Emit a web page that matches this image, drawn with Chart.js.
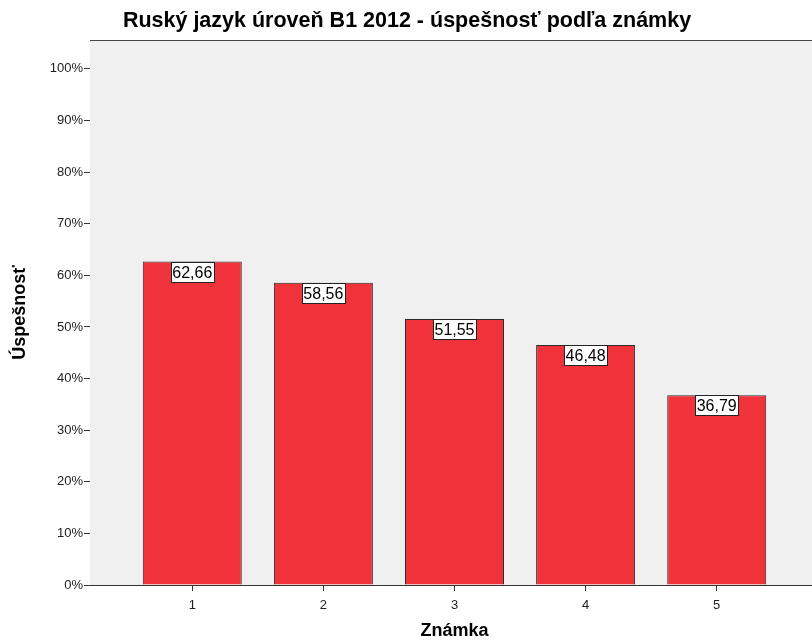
<!DOCTYPE html>
<html>
<head>
<meta charset="utf-8">
<script src="https://cdn.jsdelivr.net/npm/chart.js@4/dist/chart.umd.min.js"></script>
<style>
  html, body { margin: 0; padding: 0; background: #fff; overflow: hidden; }
  #wrap { width: 812px; height: 642px; overflow: hidden; }
</style>
</head>
<body>
<div id="wrap"><canvas id="chart_uspesnost" width="830" height="642"></canvas></div>
<script>
const grades = ['1', '2', '3', '4', '5'];
const successRates = [62.66, 58.56, 51.55, 46.48, 36.79];
const yTicks = [0, 10, 20, 30, 40, 50, 60, 70, 80, 90, 100];

const font = "'Liberation Sans', Arial, sans-serif";

// plot background, top frame line and the title above it
const frame = {
  id: 'frame',
  beforeDatasetsDraw(chart) {
    const { ctx, chartArea: a } = chart;
    ctx.save();
    ctx.fillStyle = '#f0f0f0';
    ctx.fillRect(a.left, a.top, a.right - a.left, a.bottom - a.top);
    ctx.strokeStyle = '#444';
    ctx.lineWidth = 1;
    ctx.beginPath();
    ctx.moveTo(a.left, a.top + 0.5);
    ctx.lineTo(chart.width, a.top + 0.5);
    ctx.stroke();
    ctx.restore();
  },
  afterDraw(chart) {
    const { ctx } = chart;
    ctx.save();
    ctx.fillStyle = '#000';
    ctx.font = 'bold 21.5px ' + font;
    ctx.textAlign = 'center';
    ctx.textBaseline = 'middle';
    ctx.fillText('Ruský jazyk úroveň B1 2012 - úspešnosť podľa známky', 407, 21);
    ctx.restore();
  }
};

// value boxes hanging from the top of each bar
const valueBoxes = {
  id: 'valueBoxes',
  afterDatasetsDraw(chart) {
    const { ctx } = chart;
    const meta = chart.getDatasetMeta(0);
    ctx.save();
    ctx.font = '16px ' + font;
    ctx.textAlign = 'center';
    ctx.textBaseline = 'middle';
    meta.data.forEach((bar, i) => {
      const text = successRates[i].toFixed(2).replace('.', ',');
      const w = Math.ceil(ctx.measureText(text).width) + 2;
      const h = 20;
      const x = Math.round(bar.x - w / 2) + 0.5;
      const y = Math.round(bar.y) + 0.5;
      ctx.fillStyle = '#fff';
      ctx.fillRect(x, y, w, h);
      ctx.strokeStyle = '#222';
      ctx.lineWidth = 1;
      ctx.strokeRect(x, y, w, h);
      ctx.fillStyle = '#000';
      ctx.fillText(text, bar.x, y + h / 2 + 1);
    });
    ctx.restore();
  }
};

new Chart('chart_uspesnost', {
  type: 'bar',
  plugins: [frame, valueBoxes],
  data: {
    datasets: [{
      data: grades.map((g, i) => ({ x: Number(g), y: successRates[i] })),
      backgroundColor: '#f0323a',
      borderColor: '#2a2a2a',
      borderWidth: 1,
      borderSkipped: 'bottom',
      barPercentage: 0.755,
      categoryPercentage: 1
    }]
  },
  options: {
    responsive: false,
    animation: false,
    layout: { padding: { top: 40, right: 11, left: 0, bottom: 0 } },
    plugins: { legend: { display: false }, tooltip: { enabled: false } },
    scales: {
      x: {
        type: 'linear',
        min: 0.22,
        max: 5.78,
        offset: false,
        afterBuildTicks(scale) {
          scale.ticks = grades.map(g => ({ value: Number(g) }));
        },
        afterFit(scale) { scale.height = 57; },
        ticks: {
          callback: v => String(v),
          color: '#222',
          font: { family: font, size: 13 },
          padding: 7,
          maxRotation: 0
        },
        grid: { offset: false, drawOnChartArea: false, drawTicks: true, tickLength: 6, color: '#333' },
        border: { color: '#333' },
        title: {
          display: true,
          text: 'Známka',
          color: '#000',
          font: { family: font, size: 18, weight: 'bold' },
          padding: { top: 0, bottom: 0 }
        }
      },
      y: {
        min: 0,
        max: 105.6,
        afterBuildTicks(scale) {
          scale.ticks = yTicks.map(v => ({ value: v }));
        },
        afterFit(scale) { scale.width = 90; },
        ticks: {
          callback: v => v + '%',
          color: '#222',
          font: { family: font, size: 13 },
          padding: 1
        },
        grid: { drawOnChartArea: false, drawTicks: true, tickLength: 6, color: '#333' },
        border: { color: '#333' },
        title: {
          display: true,
          text: 'Úspešnosť',
          color: '#000',
          font: { family: font, size: 18, weight: 'bold' },
          padding: { top: 9, bottom: 0 }
        }
      }
    }
  }
});
</script>
</body>
</html>
